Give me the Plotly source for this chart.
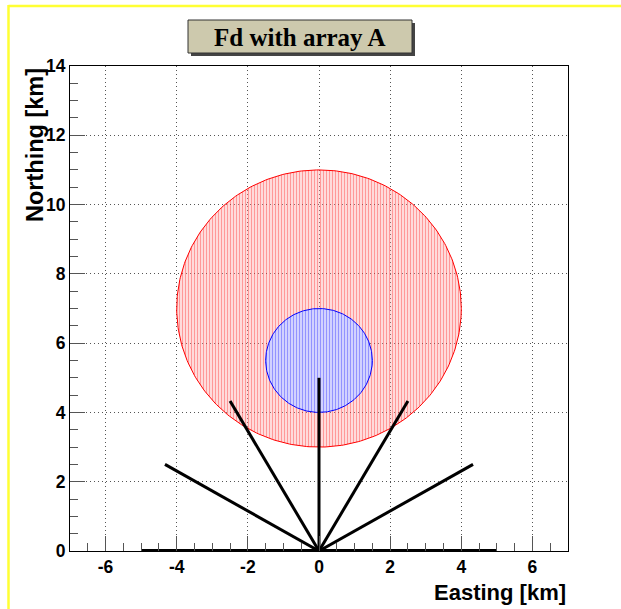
import numpy as np
import plotly.graph_objects as go

# ---- data ----
title_text = "Fd with array A"
x_label = "Easting [km]"
y_label = "Northing [km]"

# Coverage regions (circles): centre east, centre north, radius [km]
region_names = ["outer", "inner"]
region_cx = [0.0, 0.0]
region_cy = [7.0, 5.5]
region_r = [4.0, 1.5]
region_line = ["red", "blue"]

# Array arms from origin: angle from east [deg], length [km]
arm_angles_deg = [30, 60, 90, 120, 150]
arm_length = 5.0
baseline_x = [-5.0, 5.0]
baseline_y = [0.0, 0.0]

x_range = [-7, 7]
y_range = [0, 14]
x_ticks = [-6, -4, -2, 0, 2, 4, 6]
y_ticks = [0, 2, 4, 6, 8, 10, 12, 14]

# ---- figure ----
W, H = 621, 609
ml, mr, mt, mb = 70, 53, 66, 58
pw, ph = W - ml - mr, H - mt - mb

def px_x(p):
    return (p - ml) / pw

def px_y(p):
    return (H - mb - p) / ph

fig = go.Figure()

fill_styles = {
    "outer": dict(shape="|", fgcolor="rgba(255,0,0,0.6)",
                  bgcolor="rgba(255,150,150,0.35)", size=3, solidity=0.35),
    "inner": dict(shape="|", fgcolor="rgba(0,0,255,0.6)",
                  bgcolor="#d2d2ff", size=3, solidity=0.35),
}

t = np.linspace(0, 2 * np.pi, 361)
for name, cx, cy, r, lc in zip(region_names, region_cx, region_cy, region_r, region_line):
    fig.add_trace(go.Scatter(
        x=cx + r * np.cos(t), y=cy + r * np.sin(t),
        mode="lines", fill="toself",
        line=dict(color=lc, width=1),
        fillpattern=fill_styles[name],
        hoverinfo="skip", showlegend=False,
    ))

for a in arm_angles_deg:
    ang = np.deg2rad(a)
    fig.add_trace(go.Scatter(
        x=[0, arm_length * np.cos(ang)], y=[0, arm_length * np.sin(ang)],
        mode="lines", line=dict(color="black", width=3),
        hoverinfo="skip", showlegend=False,
    ))

fig.add_trace(go.Scatter(
    x=baseline_x, y=baseline_y, mode="lines",
    line=dict(color="black", width=4), cliponaxis=False,
    hoverinfo="skip", showlegend=False,
))

tickfont = dict(family="Liberation Sans, Arial", size=17.5, color="black")

common = dict(
    ticks="inside", ticklen=15, tickwidth=1, tickcolor="#555",
    minor=dict(dtick=0.5, ticks="inside", ticklen=8, tickcolor="#555", showgrid=False),
    showgrid=True, gridcolor="#555", griddash="1px,3px", gridwidth=1,
    showline=True, linecolor="black", linewidth=1, mirror=True,
    zeroline=False, tickfont=tickfont,
)
fig.update_xaxes(range=x_range, tickvals=x_ticks,
                 ticktext=[f"<b>{v}</b>" for v in x_ticks], **common)
fig.update_yaxes(range=y_range, tickvals=y_ticks,
                 ticktext=[f"<b>{v}</b>" for v in y_ticks], **common)

shapes = [
    # yellow canvas edges
    dict(type="line", xref="paper", yref="paper",
         x0=px_x(8.5), x1=px_x(621), y0=px_y(6), y1=px_y(6),
         line=dict(color="#ffff33", width=2.5)),
    dict(type="line", xref="paper", yref="paper",
         x0=px_x(8.5), x1=px_x(8.5), y0=px_y(5), y1=px_y(609),
         line=dict(color="#ffff33", width=2.5)),
    # title box shadow
    dict(type="rect", xref="paper", yref="paper",
         x0=px_x(191), x1=px_x(415), y0=px_y(23), y1=px_y(56),
         fillcolor="#444", line=dict(width=0)),
    # title box
    dict(type="rect", xref="paper", yref="paper",
         x0=px_x(188), x1=px_x(412), y0=px_y(20), y1=px_y(53),
         fillcolor="#cdc9ad", line=dict(color="#333", width=1)),
]

annotations = [
    dict(text=f"<b>{title_text}</b>", xref="paper", yref="paper",
         x=px_x(300), y=px_y(37), xanchor="center", yanchor="middle",
         showarrow=False,
         font=dict(family="Liberation Serif, Times New Roman", size=25, color="black")),
    dict(text=f"<b>{x_label}</b>", xref="paper", yref="paper",
         x=1.0, y=px_y(592), xanchor="right", yanchor="middle", showarrow=False,
         font=dict(family="Liberation Sans, Arial", size=22, color="black")),
    dict(text=f"<b>{y_label}</b>", xref="paper", yref="paper",
         x=px_x(35), y=1.0, xanchor="center", yanchor="top", textangle=-90, showarrow=False,
         font=dict(family="Liberation Sans, Arial", size=23.5, color="black")),
]

fig.update_layout(
    width=W, height=H,
    margin=dict(l=ml, r=mr, t=mt, b=mb, pad=0),
    paper_bgcolor="white", plot_bgcolor="white",
    shapes=shapes, annotations=annotations,
    showlegend=False,
)

fig.write_html("out.html")
